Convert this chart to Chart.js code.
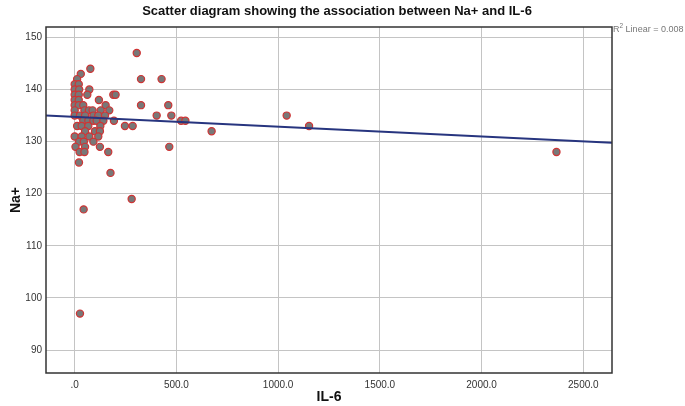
<!DOCTYPE html>
<html>
<head>
<meta charset="utf-8">
<script src="https://cdn.jsdelivr.net/npm/chart.js@4.4.1/dist/chart.umd.min.js"></script>
<style>
  html, body { margin: 0; padding: 0; background: #fff; }
  #wrap { width: 685px; height: 406px; }
</style>
</head>
<body>
<div id="wrap"><canvas id="myChart" width="685" height="406"></canvas></div>
<script>
// IL-6 (x) and Na+ (y)
const il6 = [
  305,
  77,
  30,
  12, 326, 427,
  0, 20,
  0, 22, 72,
  0, 20, 62, 190, 201,
  0, 20, 119,
  0, 20, 42, 152, 326, 460,
  0, 48, 70, 88, 128, 170,
  0, 26, 51, 92, 116, 149, 403, 475, 1042,
  42, 67, 92, 108, 141, 193, 523, 544,
  12, 34, 67, 126, 247, 285, 1152,
  51, 100, 124, 673,
  0, 34, 72, 116,
  22, 45, 92,
  4, 51, 124, 465,
  24, 48, 165, 2368,
  21,
  176,
  280,
  44,
  26
]
const na = [
  147,
  144,
  143,
  142, 142, 142,
  141, 141,
  140, 140, 140,
  139, 139, 139, 139, 139,
  138, 138, 138,
  137, 137, 137, 137, 137, 137,
  136, 136, 136, 136, 136, 136,
  135, 135, 135, 135, 135, 135, 135, 135, 135,
  134, 134, 134, 134, 134, 134, 134, 134,
  133, 133, 133, 133, 133, 133, 133,
  132, 132, 132, 132,
  131, 131, 131, 131,
  130, 130, 130,
  129, 129, 129, 129,
  128, 128, 128, 128,
  126,
  124,
  119,
  117,
  97
]

// fit line ends, read at the plot edges
const fitX = [-141, 2641]
const fitY = [135.0, 129.8]

const xTicks = [0, 500, 1000, 1500, 2000, 2500]
const yTicks = [90, 100, 110, 120, 130, 140, 150]

const chartTitle = 'Scatter diagram showing the association between Na+ and IL-6'

const points = il6.map((v, i) => ({ x: v, y: na[i] }))
const fitLine = fitX.map((v, i) => ({ x: v, y: fitY[i] }))

const frame = {
  id: 'frame',
  afterDatasetsDraw(chart) {
    const { ctx, chartArea: a } = chart
    ctx.save()
    ctx.strokeStyle = '#333'
    ctx.lineWidth = 1.5
    ctx.strokeRect(a.left, a.top, a.right - a.left, a.bottom - a.top)

    // title, centred a bit left of the canvas like the original
    ctx.fillStyle = '#111'
    ctx.textAlign = 'center'
    ctx.textBaseline = 'middle'
    ctx.font = 'bold 13px "Liberation Sans", Arial, sans-serif'
    ctx.fillText(chartTitle, 337, 11)

    // R2 note
    ctx.textAlign = 'left'
    ctx.fillStyle = '#777'
    ctx.textBaseline = 'alphabetic'
    ctx.font = '9px "Liberation Sans", Arial, sans-serif'
    ctx.fillText('R', a.right + 1, 32)
    let w = ctx.measureText('R').width
    ctx.font = '6.5px "Liberation Sans", Arial, sans-serif'
    ctx.fillText('2', a.right + 1 + w, 28)
    w += ctx.measureText('2').width
    ctx.font = '9px "Liberation Sans", Arial, sans-serif'
    ctx.fillText(' Linear = 0.008', a.right + 1 + w, 32)
    ctx.restore()
  }
}

new Chart('myChart', {
  type: 'scatter',
  data: {
    datasets: [{
      data: fitLine,
      type: 'line',
      borderColor: '#27357f',
      borderWidth: 2,
      pointRadius: 0,
      fill: false,
      order: 0
    }, {
      data: points,
      backgroundColor: '#787878',
      borderColor: '#d03434',
      borderWidth: 1.2,
      pointRadius: 3.6,
      order: 1
    }]
  },
  options: {
    responsive: false,
    animation: false,
    layout: { padding: { left: 0, right: 73, top: 27, bottom: 0 } },
    plugins: {
      legend: { display: false },
      tooltip: { enabled: false },
      title: { display: false }
    },
    scales: {
      x: {
        type: 'linear',
        min: -141,
        max: 2641,
        afterBuildTicks: s => { s.ticks = xTicks.map(v => ({ value: v })) },
        afterFit: s => { s.height = 33 },
        grid: { color: '#c4c4c4', drawTicks: false },
        border: { display: false },
        ticks: {
          padding: 6,
          color: '#333',
          font: { family: '"Liberation Sans", Arial, sans-serif', size: 10 },
          callback: v => v === 0 ? '.0' : v.toFixed(1)
        },
        title: {
          display: true,
          text: 'IL-6',
          color: '#111',
          font: { family: '"Liberation Sans", Arial, sans-serif', size: 14, weight: 'bold' },
          padding: { top: 0, bottom: 0 }
        }
      },
      y: {
        type: 'linear',
        min: 85.6,
        max: 152,
        afterBuildTicks: s => { s.ticks = yTicks.map(v => ({ value: v })) },
        afterFit: s => { s.width = 46 },
        grid: { color: '#c4c4c4', drawTicks: false },
        border: { display: false },
        ticks: {
          padding: 4,
          color: '#333',
          font: { family: '"Liberation Sans", Arial, sans-serif', size: 10 },
          callback: v => String(v)
        },
        title: {
          display: true,
          text: 'Na+',
          color: '#111',
          font: { family: '"Liberation Sans", Arial, sans-serif', size: 14, weight: 'bold' },
          padding: { top: 8, bottom: 0 }
        }
      }
    }
  },
  plugins: [frame]
})
</script>
</body>
</html>
